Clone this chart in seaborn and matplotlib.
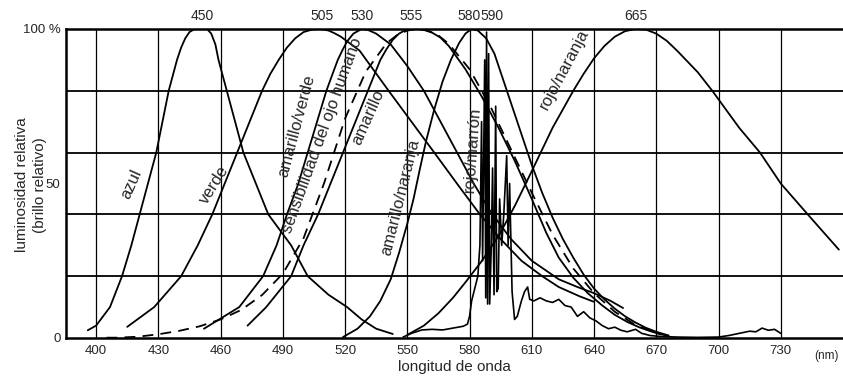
import numpy as np
import pandas as pd
import matplotlib
matplotlib.use("Agg")
import matplotlib.pyplot as plt
import seaborn as sns

# ---------------- data ----------------
azul_x = [396, 400, 406.7, 412.5, 417, 421, 425, 429, 432, 435, 437, 439, 441, 443, 445, 447.5, 450, 453.5, 455.5, 457.5, 459, 463, 467, 471, 477, 483, 494, 502, 512, 521, 528, 535, 543]
azul_y = [2.5, 4, 10, 20, 30, 40, 50, 60, 70, 80, 85, 90, 94, 97, 99, 100, 100.3, 100, 98.5, 95, 90, 80, 70, 60, 50, 40, 30, 20, 14, 10, 6, 3, 1.3]

verde_x = [415, 428, 441, 449, 456, 462, 468, 474, 480, 484, 488, 492, 496, 500, 504, 508, 512, 515, 518, 527, 541, 552, 563, 575, 585, 595, 605, 615, 623, 633, 640]
verde_y = [3.6, 10, 20, 30, 40, 50, 60, 70, 80, 85.5, 90, 94, 97, 99, 99.8, 100, 99.5, 98.6, 97.5, 93, 80, 70, 60, 49, 40, 32, 25, 20, 16.5, 13.5, 11.7]

amver_x = [452, 469, 480.5, 487, 492, 497.5, 502, 506.5, 511, 514, 516.5, 519, 521, 524, 528, 531, 535, 542, 550, 558, 566, 574, 582, 590, 600, 610, 623, 632, 640, 648, 654]
amver_y = [3, 10, 20, 30, 40, 50, 60, 70, 80, 85.5, 90, 93.5, 96, 98.5, 100, 99.7, 98.5, 95, 88, 80, 70, 60, 50, 41, 32, 25, 19, 16.5, 14.5, 12, 9.7]

ojo_x = [405, 410, 420, 430, 440, 450, 460, 470, 480, 490, 500, 510, 520, 530, 540, 545, 550, 555, 560, 565, 570, 580, 590, 600, 610, 620, 630, 640, 650, 660, 670, 676]
ojo_y = [0.1, 0.1, 0.4, 1.2, 2.3, 3.8, 6.0, 9.1, 13.9, 20.8, 32.3, 50.3, 71.0, 86.2, 95.4, 98.0, 99.5, 100, 99.5, 97.9, 95.2, 87.0, 75, 61, 47, 33.5, 22.5, 14.5, 8.5, 4.2, 1.6, 0.6]

amar_x = [473, 482, 494, 500, 507, 513, 519, 525, 531, 537, 540, 543, 546, 549, 552, 555, 558, 562, 566, 570, 578, 586, 594, 602, 610, 617, 623, 630, 637, 644, 650, 656, 662, 668, 672]
amar_y = [4, 10, 20, 30, 40, 50, 60, 70, 80, 90, 93.5, 96.5, 98.5, 99.6, 100, 100, 99.7, 98.8, 97.2, 94.5, 87, 78, 68, 57, 45, 34, 26, 19.5, 14.5, 10.5, 7.5, 5.2, 3.4, 2, 1.2]

amnar_x = [519, 526, 532, 537, 542, 546, 550, 553, 556, 559, 563, 567, 571, 575, 578, 581, 584, 588, 592, 596, 600, 605, 610, 615, 620, 625, 630, 635, 640, 645, 650, 655, 660, 665, 670, 676]
amnar_y = [0.3, 3, 7, 12, 19, 27.5, 37, 45, 54.5, 63.6, 74, 83, 90, 95.5, 98.5, 100, 99.5, 97, 92, 84, 76, 66, 56, 47, 39, 32, 26, 20.5, 16, 12.5, 9.5, 7, 5, 3.3, 2, 0.8]

rojna_x = [550, 558, 565, 572, 578, 586, 594, 602, 610, 620, 630, 635, 640, 645, 650, 655, 660, 665, 670, 675, 680, 690, 697, 710, 720, 730, 743, 758]
rojna_y = [1, 4, 8, 13, 18, 25, 33, 43, 54, 68, 80, 85.5, 90.5, 94.5, 97.5, 99.3, 100, 99.8, 98.5, 96.2, 93, 86, 80, 68, 60, 50, 40, 28.6]

rojma_x = [548, 552, 557, 562, 567, 572, 577, 579, 580, 581, 582.5, 584, 585, 585.8, 586.3, 587.3, 587.8, 588.2, 588.7, 589.2, 589.7,
           590.5, 591.1, 591.8, 592.6, 593.1, 593.8, 594.5, 595.5, 596.5, 597.9, 598.6, 599.3, 600.5, 601.7, 603, 605, 606.5, 608, 609,
           611, 614, 617, 620, 623, 626, 629, 632, 635, 638, 641, 644, 647, 650, 653, 656, 660, 663, 667, 672, 680, 690, 700, 705,
           710, 715, 718, 721, 724, 727, 730]
rojma_y = [0.3, 1.5, 2.6, 2.8, 2.6, 3.2, 3.8, 4.5, 7, 12, 16, 20, 30, 70, 25, 90, 13, 99, 11, 92, 11,
           30, 55, 14, 75, 15, 16, 45, 30, 40, 59, 30, 50, 15, 6, 7, 12, 15, 16.5, 12.5,
           12, 13, 12, 11.5, 12.5, 10.5, 10, 7, 8.5, 6.5, 5.5, 4, 3, 3.5, 2.5, 2, 2.8, 1.5, 0.8, 0.5, 0.3, 0.2, 0.3, 0.8,
           1.5, 2.2, 2, 3.2, 2.5, 2.8, 1.5]

x_ticks = [400, 430, 460, 490, 520, 550, 580, 610, 640, 670, 700, 730]
y_ticks = [0, 50, 100]
y_ticklabels = ["0", "50", "100 %"]
peak_labels = ["450", "505", "530", "555", "580", "590", "665"]

# ---------------- figure ----------------
sns.set_style("white")
plt.rcParams['font.family'] = ['Liberation Sans Narrow', 'Liberation Sans', 'DejaVu Sans']

fig = plt.figure(figsize=(8.43, 3.76), dpi=100)
ax = fig.add_axes([0.0783, 0.1011, 0.9217, 0.8218])

lw = 1.3
solid = [(azul_x, azul_y), (verde_x, verde_y), (amver_x, amver_y), (amar_x, amar_y),
         (amnar_x, amnar_y), (rojna_x, rojna_y)]
for xs, ys in solid:
    df = pd.DataFrame({"x": xs, "y": ys})
    sns.lineplot(data=df, x="x", y="y", ax=ax, color="black", lw=lw, sort=False, estimator=None)

df = pd.DataFrame({"x": ojo_x, "y": ojo_y})
sns.lineplot(data=df, x="x", y="y", ax=ax, color="black", lw=lw, sort=False, estimator=None,
             linestyle=(0, (6, 4)))
df = pd.DataFrame({"x": rojma_x, "y": rojma_y})
sns.lineplot(data=df, x="x", y="y", ax=ax, color="black", lw=1.2, sort=False, estimator=None)

ax.set_xlim(385.5, 760)
ax.set_ylim(0, 100)

for xv in x_ticks:
    ax.axvline(xv, color="black", lw=0.9, zorder=0)
for yv in [20, 40, 60, 80]:
    ax.axhline(yv, color="black", lw=1.3, zorder=0)

for s in ["left", "bottom", "top"]:
    ax.spines[s].set_visible(True)
    ax.spines[s].set_color("black")
    ax.spines[s].set_linewidth(1.8)
ax.spines["right"].set_visible(False)

ax.set_xticks(x_ticks)
ax.set_xticklabels([str(v) for v in x_ticks], fontsize=9.5)
ax.set_yticks(y_ticks)
ax.set_yticklabels(y_ticklabels, fontsize=9.5)
ax.tick_params(axis="x", length=0, pad=5)
ax.tick_params(axis="y", length=0, pad=4)
ax.set_xlabel("longitud de onda", fontsize=11, labelpad=2)
ax.set_ylabel("")
fig.text(22 / 843, 1 - 185 / 376, "luminosidad relativa", rotation=90, fontsize=11, ha="center", va="center")
fig.text(40 / 843, 1 - 185 / 376, "(brillo relativo)", rotation=90, fontsize=11, ha="center", va="center")
ax.text(752, -4, "(nm)", fontsize=8.5, ha="center", va="top", clip_on=False)

peak_pos = [451, 508.8, 528, 552, 579.6, 591, 660]
for p, t in zip(peak_pos, peak_labels):
    ax.text(p, 102, t, fontsize=10, ha="center", va="bottom", clip_on=False)

labels = [
    ("azul", 416.9, 49.7, 66),
    ("verde", 456.8, 49.7, 58),
    ("amarillo/verde", 496.8, 68.5, 75),
    ("sensibilidad del ojo humano", 508.8, 65.6, 70),
    ("amarillo", 531, 71.4, 66),
    ("amarillo/naranja", 546.8, 45.6, 76),
    ("rojo/marrón", 581.5, 61, 86),
    ("rojo/naranja", 625.8, 87, 62),
]
for t, x, y, r in labels:
    ax.text(x, y, t, fontsize=12, rotation=r, ha="center", va="center", rotation_mode="anchor")

fig.savefig("out.png", dpi=100)
